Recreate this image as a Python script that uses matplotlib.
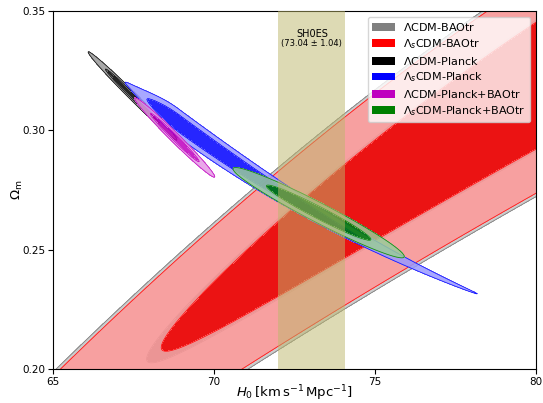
import numpy as np
import matplotlib
matplotlib.use("Agg")
import matplotlib.pyplot as plt
from matplotlib.patches import Patch
from matplotlib.colors import to_rgb

# posterior summaries (H0 in km/s/Mpc, Omega_m)
labels = [r"$\Lambda$CDM-BAOtr", r"$\Lambda_s$CDM-BAOtr", r"$\Lambda$CDM-Planck",
          r"$\Lambda_s$CDM-Planck", r"$\Lambda$CDM-Planck+BAOtr", r"$\Lambda_s$CDM-Planck+BAOtr"]
colors = ["gray", "red", "black", "blue", "m", "green"]
h0_peak = [85.5, 85.5, 67.47, 68.98, 68.78, 73.25]
h0_sd_lo = [11.6, 11.3, 0.555, 0.70, 0.50, 1.07]
h0_sd_hi = [11.6, 11.3, 0.555, 3.7, 0.50, 1.07]
om_peak = [0.36112, 0.36112, 0.3144, 0.3022, 0.2970, 0.2655]
om_slope = [0.007162, 0.007162, -0.01333, -0.00985, -0.0132, -0.0069]
om_curv = [-0.0001, -0.0001, 0.0, 0.000235, 0.0, 0.0]
om_sd = [0.0194, 0.01884, 0.00093, 0.0024, 0.0011, 0.00185]
om_sd_skew = [0.0, 0.0, 0.0, -0.073, 0.0, 0.0]
om_sd_taper = [0.08, 0.08, 0.0, 0.19, 0.0, 0.0]

h0_shoes = 73.04
h0_shoes_err = 1.04

levels = [0, 2.30, 6.18]   # 1 and 2 sigma for 2 parameters


def chi2(H, O, i):
    d = H - h0_peak[i]
    t = np.where(d < 0, d / h0_sd_lo[i], d / h0_sd_hi[i])
    m = om_peak[i] + om_slope[i] * d + om_curv[i] * d**2
    s = om_sd[i] * np.exp(om_sd_skew[i] * t - om_sd_taper[i] * t**2)
    return t**2 + ((O - m) / s)**2


fig, ax = plt.subplots(figsize=(5.43, 4.03), dpi=100)
fig.subplots_adjust(left=0.0976, right=0.9871, bottom=0.0844, top=0.9727)

h0 = np.linspace(63, 82, 1400)
om = np.linspace(0.18, 0.37, 1600)
H, O = np.meshgrid(h0, om)

for i, c in enumerate(colors):
    base = np.array(to_rgb(c))
    pale = base * 0.4 + 0.6
    alpha = 1.0 if i == 0 else 0.85
    z = chi2(H, O, i)
    ax.contourf(H, O, z, levels=levels, colors=[base, pale], alpha=alpha, zorder=i + 1)
    ax.contour(H, O, z, levels=levels[1:], colors=[base], linewidths=0.6, alpha=alpha, zorder=i + 1)

ax.axvspan(h0_shoes - h0_shoes_err, h0_shoes + h0_shoes_err, color="darkkhaki", alpha=0.5, lw=0, zorder=10)
ax.text(h0_shoes, 0.3404, "SH0ES", ha="center", va="center", fontsize=7, zorder=11)
ax.text(h0_shoes, 0.3362, "(73.04 \u00b1 1.04)", ha="center", va="center", fontsize=6, zorder=11)

ax.set_xlim(65, 80)
ax.set_ylim(0.20, 0.35)
ax.set_xticks([65, 70, 75, 80])
ax.set_yticks([0.20, 0.25, 0.30, 0.35])
ax.set_yticklabels(["0.20", "0.25", "0.30", "0.35"])
ax.tick_params(labelsize=7.5, pad=2)
ax.set_xlabel(r"$H_0\,[\mathrm{km\,s^{-1}\,Mpc^{-1}}]$", fontsize=9.5, labelpad=-2)
ax.set_ylabel(r"$\Omega_{\rm m}$", fontsize=9.5, labelpad=-2)

handles = [Patch(facecolor=c, edgecolor="none") for c in colors]
leg = ax.legend(handles, labels, loc="upper right", fontsize=8, labelspacing=0.35)
leg.set_zorder(20)

fig.savefig("out.png", dpi=100)
